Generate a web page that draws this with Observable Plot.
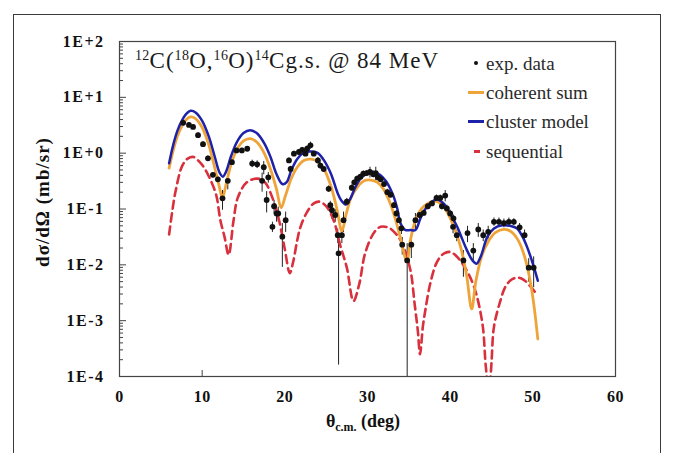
<!DOCTYPE html>
<html><head><meta charset="utf-8">
<script src="https://cdn.jsdelivr.net/npm/d3@7"></script>
<script src="https://cdn.jsdelivr.net/npm/@observablehq/plot@0.6"></script>
<style>
body{margin:0;background:#fff;}
#wrap{position:relative;width:676px;height:453px;overflow:hidden;font-family:"Liberation Serif","DejaVu Serif",serif;color:#111;}
#wrap div{font-family:"Liberation Serif","DejaVu Serif",serif;}
#border{position:absolute;left:13px;top:14px;width:648px;height:470px;border:1.5px solid #3a3a3a;box-sizing:border-box;}
#chart{position:absolute;left:0;top:0;}
#title{position:absolute;left:135px;top:49px;font-size:23px;line-height:23px;letter-spacing:1px;white-space:nowrap;color:#1a1a1a;}
#title .s{font-size:14px;position:relative;top:-8px;letter-spacing:0.3px;}
#ylab{position:absolute;left:43px;top:202px;transform:translate(-50%,-50%) rotate(-90deg);font-size:19px;font-weight:bold;letter-spacing:1px;white-space:nowrap;}
#xlab{position:absolute;left:363px;top:423px;transform:translate(-50%,-50%);font-size:18px;font-weight:bold;white-space:nowrap;}
#xlab sub{font-size:12px;}
.lg{position:absolute;left:486px;font-size:19px;line-height:19px;white-space:nowrap;color:#2a2a2a;}
.sw{position:absolute;}
</style>
</head><body>
<div id="wrap">
  <div id="border"></div>
  <div id="chart"></div>
  <div id="title"><span class="s">12</span>C(<span class="s">18</span>O,<span class="s">16</span>O)<span class="s">14</span>Cg.s. @ 84 MeV</div>
  <div id="ylab">dσ/dΩ (mb/sr)</div>
  <div id="xlab">θ<sub>c.m.</sub> (deg)</div>
  <div class="sw" style="left:473.5px;top:61px;width:4px;height:4px;border-radius:50%;background:#111;"></div>
  <div class="lg" style="top:54px;">exp. data</div>
  <div class="sw" style="left:468px;top:91px;width:16px;height:3px;background:#EFA43A;"></div>
  <div class="lg" style="top:83px;">coherent sum</div>
  <div class="sw" style="left:468px;top:120px;width:16px;height:3px;background:#1E22A8;"></div>
  <div class="lg" style="top:112px;">cluster model</div>
  <div class="sw" style="left:474px;top:150px;width:6px;height:3px;background:#D8303C;"></div>
  <div class="lg" style="top:142px;">sequential</div>
</div>
<script>
// experimental data: angle (deg), cross section (mb/sr), error (mb/sr)
const theta_exp = [7.7,8.4,8.9,9.5,10.1,10.7,11.3,11.9,12.46,13.1,13.6,14.15,14.8,15.45,16.05,16.65,17.45,17.25,18.0,17.8,18.5,18.7,19.0,19.2,19.7,20.1,20.5,20.7,21.1,21.7,22.1,22.5,22.7,23.1,23.5,24.0,24.3,24.7,25.3,25.5,25.7,26.1,26.4,26.5,26.9,27.1,27.5,28.1,28.4,28.75,29.15,29.5,29.9,30.3,30.7,31.0,31.25,31.6,32.0,32.4,32.8,33.2,33.5,33.8,34.1,34.2,34.8,35.3,35.8,36.3,36.8,37.3,37.8,38.35,38.8,39.0,39.4,39.6,40.0,40.4,40.35,40.8,41.6,42.1,42.8,43.4,44.0,44.6,45.3,45.9,46.5,47.1,47.7,48.4,49.0,49.5,50.1];
const sigma_exp = [3.5,3.2,2.95,2.1,1.45,0.81,0.41,0.34,0.155,0.32,0.69,1.12,1.12,1.2,0.65,0.63,0.56,0.32,0.37,0.145,0.048,0.112,0.083,0.083,0.032,0.063,0.74,0.52,0.98,1.05,1.15,0.98,1.2,1.38,0.98,0.74,0.60,0.52,0.23,0.117,0.095,0.078,0.034,0.016,0.034,0.063,0.135,0.24,0.30,0.35,0.38,0.43,0.44,0.46,0.42,0.44,0.37,0.34,0.28,0.20,0.18,0.117,0.083,0.063,0.045,0.023,0.012,0.023,0.063,0.078,0.085,0.112,0.126,0.158,0.158,0.112,0.174,0.102,0.083,0.068,0.048,0.034,0.012,0.037,0.018,0.043,0.034,0.039,0.059,0.059,0.056,0.059,0.059,0.047,0.034,0.0089,0.0089];
const err_exp = [0.3,0.3,0.3,0.2,0.15,0.08,0.04,0.04,0.06,0.1,0.07,0.1,0.1,0.1,0.1,0.1,0.15,0.12,0.08,0.06,0.01,0.03,0.025,0.025,0.023,0.025,0.08,0.06,0.1,0.1,0.12,0.1,0.15,0.2,0.1,0.1,0.08,0.06,0.03,0.02,0.03,0.02,0.01,0.01584,0.01,0.025,0.02,0.03,0.03,0.04,0.04,0.05,0.05,0.1,0.06,0.12,0.05,0.04,0.03,0.025,0.02,0.015,0.01,0.008,0.01,0.008,0.01199,0.01,0.02,0.01,0.01,0.015,0.015,0.02,0.02,0.015,0.04,0.015,0.012,0.01,0.012,0.008,0.006,0.012,0.006,0.012,0.008,0.01,0.01,0.01,0.01,0.01,0.008,0.008,0.008,0.004,0.005];

// coherent sum
const theta_coh = [6.0,6.5,7.0,7.5,8.0,8.6,9.2,10.0,10.8,11.5,12.0,12.45,12.9,13.5,14.2,15.0,15.8,16.6,17.5,18.3,19.0,19.55,20.1,20.8,21.5,22.3,23.2,24.0,24.8,25.6,26.3,26.9,27.4,28.0,28.8,29.6,30.4,31.2,32.0,32.8,33.6,34.2,34.75,35.2,35.8,36.5,37.3,38.2,39.0,39.8,40.6,41.3,42.0,42.6,43.1,43.8,44.6,45.5,46.5,47.3,48.2,49.0,49.7,50.2,50.6];
const sigma_coh = [0.54,1.12,2.0,2.95,3.9,4.47,4.17,2.88,1.41,0.56,0.28,0.158,0.28,0.63,1.17,1.66,1.82,1.58,1.0,0.50,0.224,0.105,0.178,0.355,0.56,0.74,0.78,0.70,0.50,0.25,0.10,0.040,0.079,0.158,0.25,0.32,0.33,0.30,0.22,0.12,0.050,0.0224,0.0112,0.028,0.063,0.10,0.126,0.138,0.12,0.079,0.042,0.020,0.0063,0.00162,0.0050,0.0141,0.026,0.038,0.043,0.040,0.028,0.0141,0.0050,0.00158,0.00047];

// cluster model
const theta_clu = [6.0,6.5,7.0,7.5,8.0,8.6,9.2,10.0,10.8,11.5,12.1,12.5,12.9,13.5,14.2,15.0,15.8,16.6,17.5,18.3,19.0,19.7,20.2,20.8,21.5,22.3,23.3,24.0,24.8,25.6,26.4,26.9,27.4,27.9,28.5,29.2,30.0,30.8,31.5,32.2,32.8,33.2,33.6,34.0,34.6,35.2,35.8,36.4,37.0,37.7,38.4,39.2,40.0,40.85,41.5,42.05,42.7,43.2,43.7,44.5,45.3,46.3,47.2,48.1,48.7,49.3,50.0,50.6];
const sigma_clu = [0.66,1.41,2.51,3.72,4.9,5.75,5.37,3.8,2.0,0.89,0.45,0.38,0.47,0.89,1.58,2.29,2.57,2.29,1.51,0.83,0.42,0.28,0.30,0.50,0.79,1.02,1.07,1.0,0.72,0.42,0.19,0.138,0.12,0.151,0.24,0.355,0.44,0.457,0.41,0.32,0.224,0.162,0.102,0.055,0.042,0.042,0.042,0.068,0.10,0.132,0.148,0.126,0.083,0.048,0.028,0.018,0.012,0.0105,0.0141,0.0316,0.0447,0.051,0.050,0.0447,0.033,0.021,0.0105,0.0052];

// sequential
const theta_seq = [6.0,6.4,6.8,7.6,8.3,9.0,9.6,10.2,10.9,11.7,12.2,12.7,13.2,13.8,14.3,15.4,16.7,17.6,18.5,19.3,20.0,20.6,21.0,21.5,21.9,22.7,23.5,24.2,25.0,25.9,26.7,27.5,28.3,29.0,29.7,30.8,31.6,32.6,33.5,34.2,35.2,35.7,36.1,36.35,36.7,37.0,37.6,38.4,39.2,40.0,40.8,41.8,42.9,43.9,44.3,44.7,45.0,45.3,46.1,46.7,47.4,48.1,48.9,49.7,50.3];
const sigma_seq = [0.035,0.095,0.214,0.60,0.81,0.85,0.72,0.56,0.36,0.178,0.063,0.032,0.0151,0.063,0.158,0.30,0.35,0.30,0.158,0.063,0.019,0.0071,0.0112,0.0275,0.048,0.089,0.126,0.135,0.112,0.063,0.0224,0.0089,0.00224,0.0045,0.0158,0.038,0.048,0.046,0.035,0.024,0.0079,0.002,0.00063,0.00025,0.00079,0.00155,0.0047,0.0112,0.0158,0.017,0.0141,0.0089,0.004,0.00089,0.000158,0.00005,0.000178,0.00078,0.00234,0.0041,0.0054,0.0059,0.0054,0.0041,0.0032];

const xTicks = [0,10,20,30,40,50,60];
const xInnerTicks = [10];
const yTicks = [1e-4,1e-3,1e-2,1e-1,1,10,100];
const yTickLabels = ["1E-4","1E-3","1E-2","1E-1","1E+0","1E+1","1E+2"];

const yMinor = [];
for (let i = 0; i < yTicks.length - 1; i++) for (let k = 2; k <= 9; k++) yMinor.push(yTicks[i] * k);

const exp = theta_exp.map((t, i) => ({t, s: sigma_exp[i], lo: Math.max(sigma_exp[i] - err_exp[i], 1e-6), hi: sigma_exp[i] + err_exp[i]}));
const series = (th, sg) => th.map((t, i) => ({t, s: sg[i]}));

const W = 676, H = 453, ML = 119, MR = 61, MT = 41, MB = 77;
const PW = W - ML - MR, PH = H - MT - MB;
const serif = "'Liberation Serif','DejaVu Serif',serif";

const chart = Plot.plot({
  width: W, height: H,
  marginLeft: ML, marginRight: MR, marginTop: MT, marginBottom: MB,
  style: {fontFamily: serif, background: "transparent", color: "#111"},
  x: {domain: [0, 60], axis: null, label: null},
  y: {type: "log", domain: [1e-4, 100], axis: null, label: null},
  marks: [
    Plot.tickY(yMinor, {y: d => d, insetRight: PW - 4, stroke: "#444", strokeWidth: 1}),
    Plot.tickY(yTicks, {y: d => d, insetRight: PW - 7, stroke: "#444", strokeWidth: 1}),
    Plot.tickX(xInnerTicks, {x: d => d, insetTop: PH - 6, stroke: "#444", strokeWidth: 1}),
    Plot.ruleX(exp, {x: "t", y1: "lo", y2: "hi", stroke: "#222", strokeWidth: 1, clip: true}),
    Plot.line(series(theta_seq, sigma_seq), {x: "t", y: "s", stroke: "#D8303C", strokeWidth: 2.6, strokeDasharray: "8,5", curve: "catmull-rom", clip: true}),
    Plot.line(series(theta_coh, sigma_coh), {x: "t", y: "s", stroke: "#EFA43A", strokeWidth: 2.8, curve: "catmull-rom", clip: true}),
    Plot.line(series(theta_clu, sigma_clu), {x: "t", y: "s", stroke: "#1E22A8", strokeWidth: 2.5, curve: "catmull-rom", clip: true}),
    Plot.dot(exp, {x: "t", y: "s", r: 2.9, fill: "#111", stroke: null}),
    Plot.frame({stroke: "#444", strokeWidth: 1.2}),
    Plot.axisX(xTicks, {x: d => d, label: null, tickSize: 0, tickPadding: 14, fontSize: 16, fontWeight: "bold", fontFamily: serif, fill: "#111"}),
    Plot.axisY(yTicks, {y: d => d, label: null, tickSize: 0, tickPadding: 15, fontSize: 16, fontWeight: "bold", fontFamily: serif, fill: "#111",
      tickFormat: d => yTickLabels[yTicks.indexOf(d)]})
  ]
});
document.getElementById("chart").appendChild(chart);
d3.select(chart).selectAll('g[aria-label="y-axis tick label"] text').attr("letter-spacing", "1.5px");
d3.select(chart).selectAll('g[aria-label="x-axis tick label"] text').attr("letter-spacing", "0.5px");
</script>
</body></html>
